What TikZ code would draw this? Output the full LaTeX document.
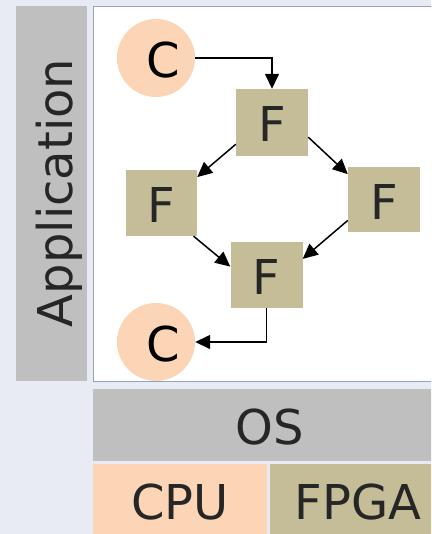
\documentclass[tikz,border=0pt]{standalone}
\usepackage{fontspec}
\setmainfont{DejaVu Sans}
\usetikzlibrary{arrows.meta}
\definecolor{pagebg}{HTML}{E8EBF3}
\definecolor{layergray}{HTML}{BFBFBF}
\definecolor{cpufill}{HTML}{FBD5B5}
\definecolor{fpgafill}{HTML}{C4BD97}
\definecolor{panelline}{HTML}{8FA3C4}
\definecolor{inkdark}{HTML}{262626}
\tikzset{
  bigtext/.style={font=\fontsize{48}{58}\selectfont, text=inkdark},
  layer/.style={bigtext, inner sep=0pt, anchor=north west, text depth=0pt},
  cnode/.style={circle, fill=cpufill, minimum size=78pt, inner sep=0pt,
    font=\fontsize{48}{58}\selectfont, text=black, text height=39pt, text depth=0pt},
  fnode/.style={rectangle, fill=fpgafill, inner sep=0pt, bigtext,
    text height=39pt, text depth=0pt},
  flow/.style={line width=1.5pt, -{Triangle[length=15pt, width=14pt]}}
}
\begin{document}
\begin{tikzpicture}[x=1pt, y=-1pt]
\useasboundingbox (0,0) rectangle (431,534);
\clip (0,0) rectangle (431,534);
\fill[pagebg] (0,0) rectangle (431,534);

% side label bar
\node[fill=layergray, minimum width=71pt, minimum height=375pt, inner sep=0pt,
      anchor=north west] (appbar) at (16,6) {};
\node[bigtext, rotate=90, anchor=base, inner sep=0pt] (applabel) at (72,193) {Application};

% application panel
\node[draw=panelline, line width=1pt, fill=white, minimum width=360pt,
      minimum height=375pt, inner sep=0pt, anchor=north west] (panel) at (93,6) {};

% task graph
\node[cnode] (ct) at (156,58) {\hspace*{14pt}C};
\node[fnode, minimum width=72pt, minimum height=67pt] (ft) at (272,122.5) {F};
\node[fnode, minimum width=71pt, minimum height=66pt] (fl) at (161.5,203) {F};
\node[fnode, minimum width=72pt, minimum height=65pt] (fr) at (384,199.5) {F};
\node[fnode, minimum width=72pt, minimum height=66pt] (fb) at (266.5,275) {F};
\node[cnode] (cb) at (156,342) {\hspace*{14pt}C};

\draw[flow] (ct.east) -| (ft.north);
\draw[flow] (ft.211) -- (fl.36);
\draw[flow] (ft.-22) -- (fr.145);
\draw[flow] (fl.-46) -- (fb.167);
\draw[flow] (fr.210) -- (fb.24);
\draw[flow] (fb.south) |- (cb.east);

% system layers
\node[layer, fill=layergray, text height=38pt, minimum width=353pt, minimum height=72pt] (os) at (93,389) {OS};
\node[layer, fill=cpufill, text height=34pt, minimum width=174pt, minimum height=76pt] (cpu) at (93,464) {CPU};
\node[layer, fill=fpgafill, text height=34pt, minimum width=176pt, minimum height=76pt] (fpga) at (270,464) {FPGA};
\end{tikzpicture}
\end{document}
